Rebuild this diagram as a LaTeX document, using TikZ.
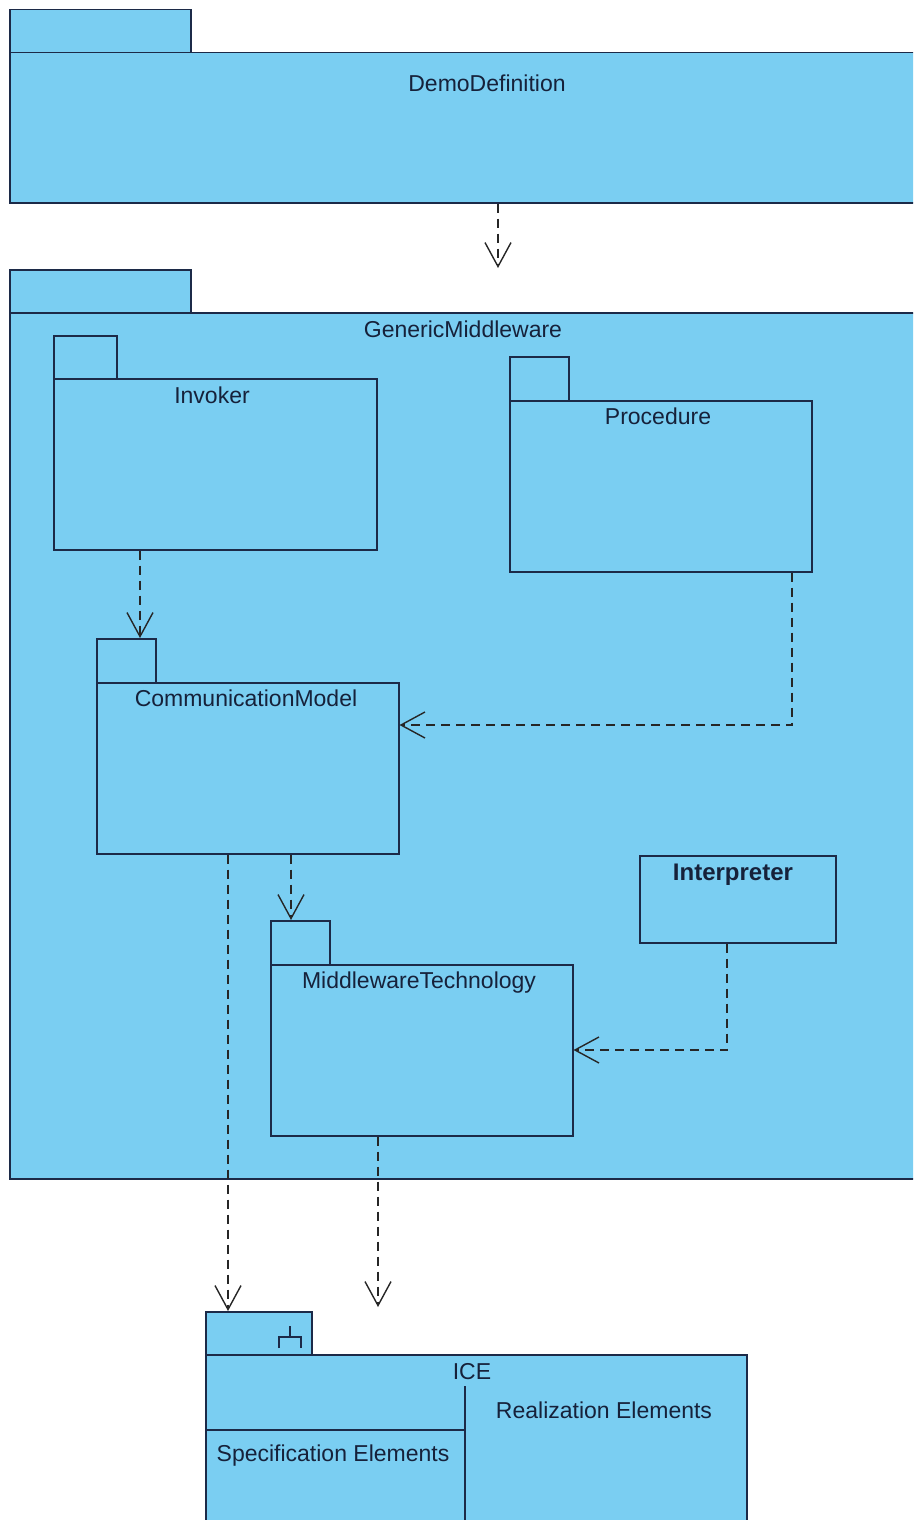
\documentclass[tikz,border=0pt]{standalone}
\usepackage{fontspec}
\setmainfont{Liberation Sans}
\usetikzlibrary{arrows.meta}
\definecolor{pkgblue}{HTML}{7ACEF2}
\definecolor{pkgline}{HTML}{1C2A48}
\definecolor{pkgtext}{HTML}{16213A}
\tikzstyle{pkgbox} = [rectangle, draw=pkgline, fill=pkgblue, line width=1.5pt, anchor=north west, inner sep=0pt]
\tikzstyle{pkgname} = [text=pkgtext, font=\fontsize{23}{26}\selectfont, inner sep=0pt, anchor=base]
\tikzstyle{dep} = [draw=black!85, line width=1.4pt, dash pattern=on 9pt off 6pt, -{Straight Barb[length=24pt,width=26pt]}]

\begin{document}
\begin{tikzpicture}[x=1pt, y=-1pt]
	\useasboundingbox (0,0) rectangle (913,1520);
	\clip (0,0) rectangle (913,1520);
	\node[pkgbox, minimum width=181pt, minimum height=43pt] (demotab) at (9,9) {};
	\node[pkgbox, minimum width=930pt, minimum height=150pt] (demo) at (9,52) {};
	\node[pkgname] (demoname) at (487,91) {DemoDefinition};
	\node[pkgbox, minimum width=181pt, minimum height=43pt] (genmidtab) at (9,269) {};
	\node[pkgbox, minimum width=930pt, minimum height=866pt] (genmid) at (9,312) {};
	\node[pkgname] (genmidname) at (463,337) {GenericMiddleware};
	\node[pkgbox, minimum width=63pt, minimum height=43pt] (invokertab) at (53,335) {};
	\node[pkgbox, minimum width=323pt, minimum height=171pt] (invoker) at (53,378) {};
	\node[pkgname] (invokername) at (212,403) {Invoker};
	\node[pkgbox, minimum width=59pt, minimum height=44pt] (proctab) at (509,356) {};
	\node[pkgbox, minimum width=302pt, minimum height=171pt] (proc) at (509,400) {};
	\node[pkgname] (procname) at (658,424) {Procedure};
	\node[pkgbox, minimum width=59pt, minimum height=44pt] (commtab) at (96,638) {};
	\node[pkgbox, minimum width=302pt, minimum height=171pt] (comm) at (96,682) {};
	\node[pkgname] (commname) at (246,706) {CommunicationModel};
	\node[pkgbox, minimum width=59pt, minimum height=44pt] (mwttab) at (270,920) {};
	\node[pkgbox, minimum width=302pt, minimum height=171pt] (mwt) at (270,964) {};
	\node[pkgname] (mwtname) at (419,988) {MiddlewareTechnology};
	\node[pkgbox, minimum width=196pt, minimum height=87pt] (interp) at (639,855) {};
	\node[pkgname, font=\fontsize{24}{27}\selectfont\bfseries] (interpname) at (733,880) {Interpreter};
	\node[pkgbox, minimum width=106pt, minimum height=43pt] (icetab) at (205,1311) {};
	\node[pkgbox, minimum width=541pt, minimum height=200pt] (ice) at (205,1354) {};
	\node[pkgname] (icename) at (472,1379) {ICE};
	\node[pkgname] (realname) at (604,1418) {Realization Elements};
	\node[pkgname] (specname) at (333,1461) {Specification Elements};
	\draw[pkgline, line width=1.5pt] (465,1386) -- (465,1530) (ice.west |- 0,1430) -- (465,1430);
	\draw[pkgline, line width=1.3pt] (290,1326) -- (290,1337) (279,1348) -- (279,1337) -- (301,1337) -- (301,1348);
	\coordinate (genmidin) at (498,268);
	\coordinate (icein) at (378,1307);
	\draw[dep] (498,0 |- demo.south) -- (genmidin);
	\draw[dep] (140,0 |- invoker.south) -- (140,0 |- commtab.north);
	\draw[dep] (792,0 |- proc.south) |- (comm.east |- 0,725);
	\draw[dep] (291,0 |- comm.south) -- (291,0 |- mwttab.north);
	\draw[dep] (727,0 |- interp.south) |- (mwt.east |- 0,1050);
	\draw[dep] (228,0 |- comm.south) -- (228,0 |- icetab.north);
	\draw[dep] (378,0 |- mwt.south) -- (icein);
\end{tikzpicture}
\end{document}
